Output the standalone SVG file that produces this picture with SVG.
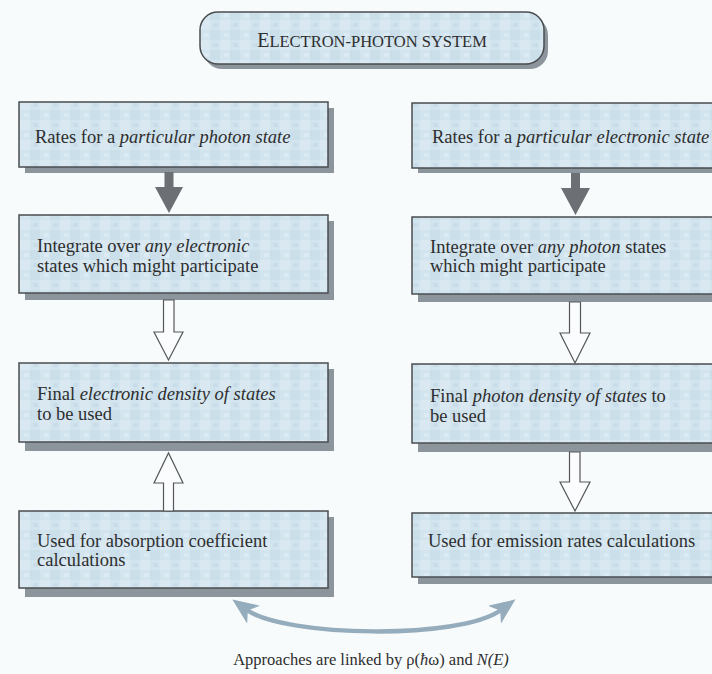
<svg xmlns="http://www.w3.org/2000/svg" width="712" height="674" viewBox="0 0 712 674">
<defs>
<pattern id="tex" width="20" height="20" patternUnits="userSpaceOnUse">
<rect width="20" height="20" fill="#d2e4ee"/>
<rect x="0" y="0" width="10" height="10" fill="#d9e8f1"/>
<rect x="10" y="10" width="10" height="10" fill="#cbdfeb"/>
<rect x="4" y="13" width="5" height="4" fill="#dcebf3"/>
<rect x="13" y="3" width="5" height="4" fill="#c8dde9"/>
</pattern>
<marker id="cv" viewBox="0 0 26 22" markerUnits="userSpaceOnUse" markerWidth="26" markerHeight="22" refX="8" refY="11" orient="auto-start-reverse">
<path d="M0,0 L26,11 L0,22 L7,11 z" fill="#95acbd"/>
</marker>
</defs>
<style>
.bg{fill:#f8fbfc}
.box{fill:url(#tex);stroke:#4a4d50;stroke-width:1.5}
.sh{fill:#8d959c}
.t{font-family:"Liberation Serif","Times New Roman",serif;font-size:18.5px;fill:#2e2e2e}
.i{font-style:italic}
.ttl{font-family:"Liberation Serif","Times New Roman",serif;fill:#2e2e2e}
.solid{fill:#6c7074}
.hollow{fill:#fbfcfd;stroke:#55585b;stroke-width:1.2}
.curve{fill:none;stroke:#95acbd;stroke-width:4.5}
.cap{font-family:"Liberation Serif","Times New Roman",serif;font-size:16.5px;fill:#2e2e2e}
</style>
<rect class="bg" width="712" height="674"/>

<g id="title">
<rect class="sh" x="204" y="17" width="344" height="52" rx="18"/>
<rect class="box" x="200" y="12" width="344" height="52" rx="18" stroke="#666"/>
<text class="ttl" x="372" y="47" text-anchor="middle"><tspan font-size="20">E</tspan><tspan font-size="16.5">LECTRON-PHOTON SYSTEM</tspan></text>
</g>

<g id="left1">
<rect class="sh" x="25" y="108" width="309" height="65"/>
<rect class="box" x="19" y="102" width="309" height="65"/>
<text class="t" x="35" y="143">Rates for a <tspan class="i">particular photon state</tspan></text>
</g>
<g id="left2">
<rect class="sh" x="25" y="221" width="309" height="79"/>
<rect class="box" x="19" y="215" width="309" height="78"/>
<text class="t" x="37" y="252">Integrate over <tspan class="i">any electronic</tspan></text>
<text class="t" x="37" y="272">states which might participate</text>
</g>
<g id="left3">
<rect class="sh" x="25" y="369" width="309" height="82"/>
<rect class="box" x="19" y="363" width="309" height="79"/>
<text class="t" x="37" y="400">Final <tspan class="i">electronic density of states</tspan></text>
<text class="t" x="37" y="420">to be used</text>
</g>
<g id="left4">
<rect class="sh" x="25" y="517" width="309" height="80"/>
<rect class="box" x="19" y="511" width="309" height="77"/>
<text class="t" x="37" y="547">Used for absorption coefficient</text>
<text class="t" x="37" y="566">calculations</text>
</g>

<g id="right1">
<rect class="sh" x="418" y="109" width="320" height="64"/>
<rect class="box" x="412" y="103" width="320" height="65"/>
<text class="t" x="432" y="143">Rates for a <tspan class="i">particular electronic state</tspan></text>
</g>
<g id="right2">
<rect class="sh" x="418" y="223" width="320" height="79"/>
<rect class="box" x="412" y="217" width="320" height="77"/>
<text class="t" x="430" y="253">Integrate over <tspan class="i">any photon</tspan> states</text>
<text class="t" x="430" y="272">which might participate</text>
</g>
<g id="right3">
<rect class="sh" x="418" y="370" width="320" height="82"/>
<rect class="box" x="412" y="364" width="320" height="79"/>
<text class="t" x="430" y="402">Final <tspan class="i">photon density of states</tspan> to</text>
<text class="t" x="430" y="422">be used</text>
</g>
<g id="right4">
<rect class="sh" x="418" y="519" width="320" height="65"/>
<rect class="box" x="412" y="513" width="320" height="64"/>
<text class="t" x="428" y="547">Used for emission rates calculations</text>
</g>

<g id="connectors">
<polygon class="solid" points="164.5,172 173.5,172 173.5,187 183,187 169,213 155,187 164.5,187"/>
<polygon class="hollow" points="163.5,300 174,300 174,332 183,332 168.5,360 154,332 163.5,332"/>
<polygon class="hollow" points="163.5,511 173.5,511 173.5,483 183,483 168.5,453 154,483 163.5,483"/>
<polygon class="solid" points="571,173 580,173 580,188 590,188 575.5,215 561,188 571,188"/>
<polygon class="hollow" points="569.5,302 580.5,302 580.5,333 590,333 575,363 560,333 569.5,333"/>
<polygon class="hollow" points="569.5,452 580,452 580,482 590,482 575,511 560,482 569.5,482"/>
<path class="curve" d="M247,610 C285,637 460,640 501,610" marker-start="url(#cv)" marker-end="url(#cv)"/>
</g>

<g id="caption">
<text class="cap" x="371" y="665" text-anchor="middle">Approaches are linked by ρ(<tspan class="i">ħ</tspan>ω) and <tspan class="i">N(E)</tspan></text>
</g>
</svg>
